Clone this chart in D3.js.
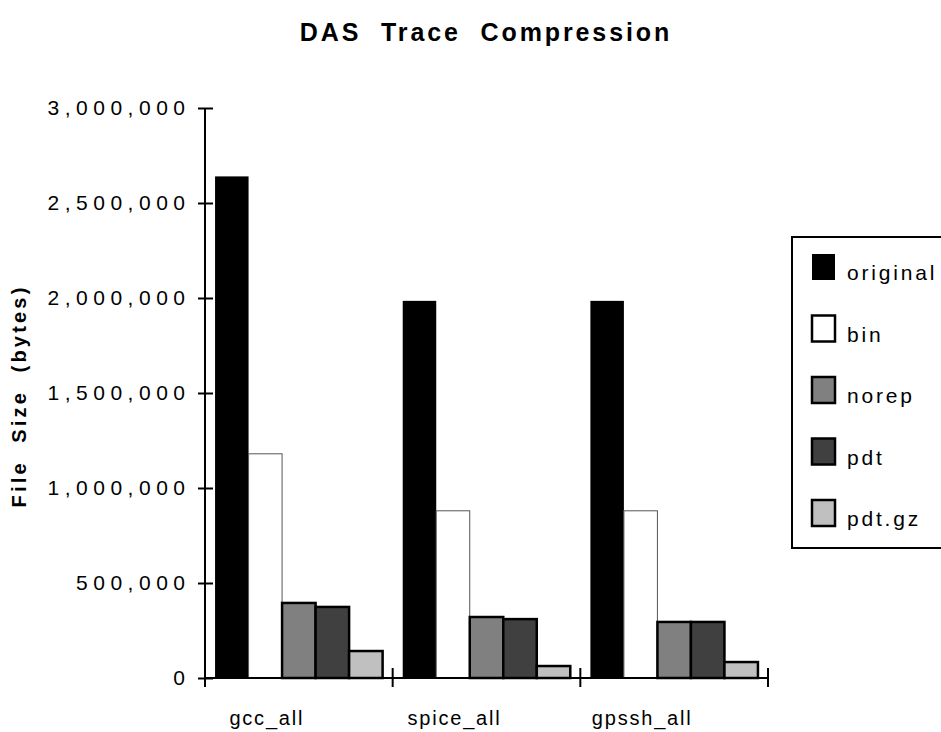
<!DOCTYPE html>
<html>
<head>
<meta charset="utf-8">
<script src="https://cdn.jsdelivr.net/npm/d3@7/dist/d3.min.js"></script>
<style>
  html, body { margin: 0; padding: 0; background: #fff; }
  svg { display: block; font-family: "Liberation Sans", Arial, sans-serif; }
</style>
</head>
<body>
<svg id="chart" width="941" height="732"></svg>
<script>
const categories = ["gcc_all", "spice_all", "gpssh_all"];
const seriesNames = ["original", "bin", "norep", "pdt", "pdt.gz"];
const original = [2640000, 1985000, 1985000];
const bin = [1180000, 880000, 880000];
const norep = [395000, 321000, 295000];
const pdt = [374000, 310000, 295000];
const pdtgz = [142000, 63000, 84000];
const yTicks = [0, 500000, 1000000, 1500000, 2000000, 2500000, 3000000];
const title = "DAS\u00a0\u00a0Trace\u00a0\u00a0Compression";
const yTitle = "File\u00a0\u00a0Size\u00a0\u00a0(bytes)";

const seriesValues = [original, bin, norep, pdt, pdtgz];
const fills = ["#000000", "#ffffff", "#808080", "#404040", "#c0c0c0"];
const strokes = ["#000000", "#555555", "#000000", "#000000", "#000000"];
const strokeW = [0, 1, 2.5, 2.5, 2.5];

const svg = d3.select("#chart");
const x0 = d3.scaleBand().domain(categories).range([205, 768]).padding(0);
const x1 = d3.scaleBand().domain(seriesNames).range([0, x0.bandwidth()]).paddingInner(0).paddingOuter(0.3);
const y = d3.scaleLinear().domain([0, 3000000]).range([678, 108]);

// title
svg.append("text").attr("x", 486).attr("y", 41).attr("text-anchor", "middle")
  .attr("font-size", 25).attr("font-weight", "bold").attr("letter-spacing", 2.9)
  .text(title);

// y title
svg.append("text").attr("transform", "translate(26,396) rotate(-90)")
  .attr("text-anchor", "middle").attr("font-size", 20).attr("font-weight", "bold")
  .attr("letter-spacing", 3.2).text(yTitle);

// bars
const groups = svg.append("g").selectAll("g").data(categories).join("g")
  .attr("transform", d => `translate(${x0(d)},0)`);
groups.selectAll("rect")
  .data((c, ci) => seriesNames.map((s, si) => ({ s, si, v: seriesValues[si][ci] })))
  .join("rect")
  .attr("x", d => x1(d.s))
  .attr("width", x1.bandwidth())
  .attr("y", d => y(d.v))
  .attr("height", d => y(0) - y(d.v))
  .attr("fill", d => fills[d.si])
  .attr("stroke", d => strokeW[d.si] ? strokes[d.si] : "none")
  .attr("stroke-width", d => strokeW[d.si]);

// y axis
const yAxis = d3.axisLeft(y).tickValues(yTicks).tickFormat(d3.format(",")).tickSize(7).tickPadding(13);
const gy = svg.append("g").attr("transform", "translate(205,0)").call(yAxis);
gy.select(".domain").remove();
gy.append("line").attr("x1", 0).attr("x2", 0).attr("y1", y(3000000)).attr("y2", y(0))
  .attr("stroke", "#000").attr("stroke-width", 2);
gy.selectAll(".tick line").attr("x1", -7).attr("x2", 8).attr("stroke", "#000").attr("stroke-width", 2);
gy.selectAll(".tick text").attr("font-size", 21).attr("font-family", "Liberation Sans, Arial, sans-serif")
  .attr("fill", "#000").attr("letter-spacing", 5.5).attr("dx", 5.5);

// x axis
const gx = svg.append("g");
gx.append("line").attr("x1", x0.range()[0]).attr("x2", x0.range()[1]).attr("y1", y(0)).attr("y2", y(0))
  .attr("stroke", "#000").attr("stroke-width", 2);
const boundaries = categories.map(c => x0(c)).concat([x0(categories[categories.length - 1]) + x0.bandwidth()]);
gx.selectAll("line.tk").data(boundaries).join("line").attr("class", "tk")
  .attr("x1", d => d).attr("x2", d => d).attr("y1", y(0) - 10).attr("y2", y(0) + 9)
  .attr("stroke", "#000").attr("stroke-width", 2);
gx.selectAll("text").data(categories).join("text")
  .attr("x", d => x0(d) + x0.bandwidth() / 2 - 32)
  .attr("y", 725).attr("text-anchor", "middle").attr("font-size", 20).attr("letter-spacing", 1.8)
  .text(d => d);

// legend
const lg = svg.append("g");
lg.append("rect").attr("x", 792).attr("y", 237).attr("width", 160).attr("height", 311)
  .attr("fill", "#fff").attr("stroke", "#000").attr("stroke-width", 2);
const items = lg.selectAll("g.item").data(seriesNames).join("g").attr("class", "item")
  .attr("transform", (d, i) => `translate(812,${254 + i * 61.5})`);
items.append("rect").attr("width", 23).attr("height", 26)
  .attr("fill", (d, i) => fills[i])
  .attr("stroke", (d, i) => i === 0 ? "none" : "#000")
  .attr("stroke-width", (d, i) => i === 0 ? 0 : 2.5);
items.append("text").attr("x", 35).attr("y", 26).attr("font-size", 21).attr("letter-spacing", 2.8)
  .text(d => d);
</script>
</body>
</html>
